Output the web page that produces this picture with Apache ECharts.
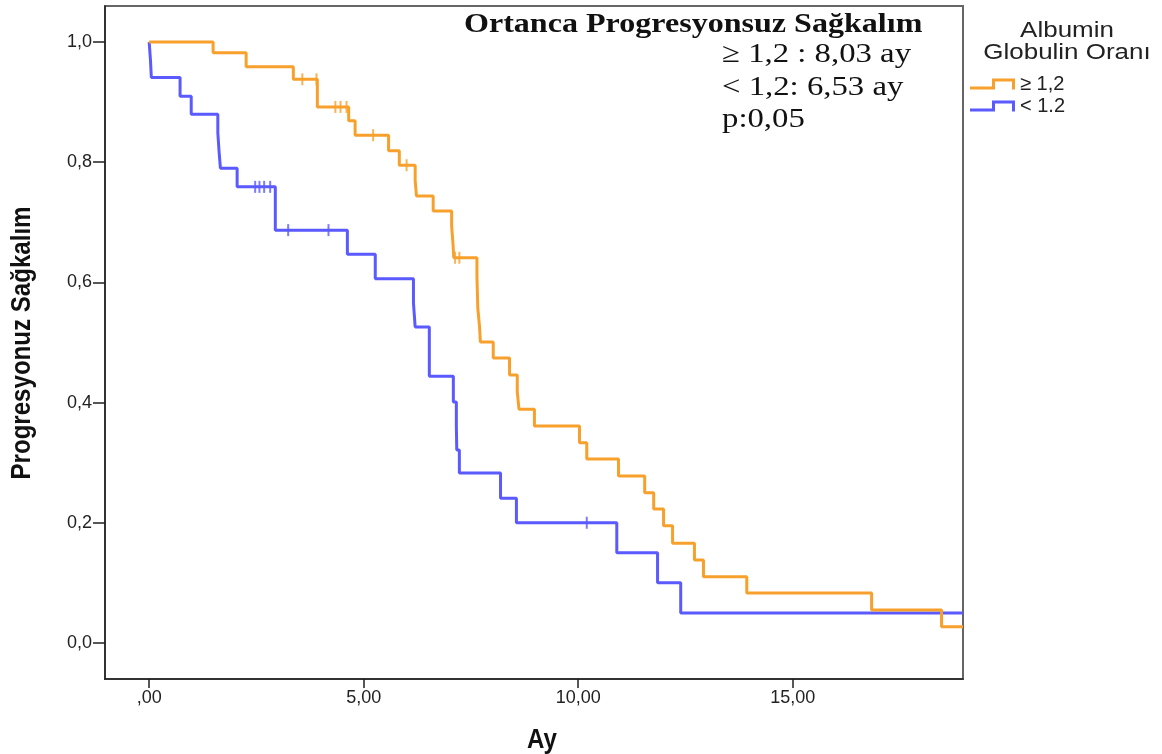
<!DOCTYPE html>
<html>
<head>
<meta charset="utf-8">
<script src="https://cdn.jsdelivr.net/npm/echarts@6/dist/echarts.min.js"></script>
<style>
html,body{margin:0;padding:0;background:#fff;}
#chart{width:1162px;height:754px;}
</style>
</head>
<body>
<div id="chart"></div>
<script>
// ---- data ----
const seriesNames = ['≥ 1,2', '< 1.2'];

// ≥ 1,2 group: event times (ay) and survival after each step
const highTimes = [0, 1.49, 2.26, 3.36, 3.92, 4.65, 4.80, 5.58, 5.83, 6.20, 6.23, 6.62, 7.05, 7.08, 7.10, 7.64, 7.66, 7.70, 7.72, 8.02, 8.40, 8.58, 8.62, 8.98, 10.03, 10.20, 10.94, 11.55, 11.76, 11.99, 12.20, 12.71, 12.92, 13.93, 16.84, 18.47, 18.97];
const highSurv  = [1.0, 0.982, 0.959, 0.938, 0.892, 0.869, 0.845, 0.819, 0.795, 0.770, 0.744, 0.719, 0.694, 0.666, 0.641, 0.610, 0.557, 0.527, 0.501, 0.474, 0.446, 0.418, 0.389, 0.361, 0.333, 0.306, 0.278, 0.250, 0.223, 0.195, 0.166, 0.138, 0.110, 0.083, 0.055, 0.027, 0.027];
const highCensorTimes = [3.57, 3.90, 4.34, 4.46, 4.60, 5.22, 6.00, 7.13, 7.23];
const highCensorSurv  = [0.938, 0.938, 0.892, 0.892, 0.892, 0.845, 0.795, 0.641, 0.641];

// < 1.2 group
const lowTimes = [0, 0.03, 0.05, 0.72, 0.98, 1.60, 1.63, 1.66, 2.05, 2.94, 4.62, 5.27, 6.16, 6.20, 6.53, 7.09, 7.16, 7.17, 7.23, 8.19, 8.56, 10.90, 11.85, 12.39, 18.97];
const lowSurv  = [1.0, 0.970, 0.941, 0.910, 0.880, 0.849, 0.817, 0.790, 0.759, 0.687, 0.647, 0.606, 0.566, 0.526, 0.444, 0.401, 0.361, 0.321, 0.283, 0.241, 0.200, 0.150, 0.100, 0.050, 0.050];
const lowCensorTimes = [2.47, 2.57, 2.68, 2.82, 3.24, 4.18, 10.20];
const lowCensorSurv  = [0.759, 0.759, 0.759, 0.759, 0.687, 0.687, 0.200];

const xTickValues = [0, 5, 10, 15];
const xTickLabels = [',00', '5,00', '10,00', '15,00'];
const yTickValues = [0, 0.2, 0.4, 0.6, 0.8, 1.0];
const yTickLabels = ['0,0', '0,2', '0,4', '0,6', '0,8', '1,0'];

const xAxisTitle = 'Ay';
const yAxisTitle = 'Progresyonuz Sağkalım';
const annotationTitle = 'Ortanca Progresyonsuz Sağkalım';
const annotationLines = ['≥ 1,2 : 8,03 ay', '< 1,2: 6,53 ay', 'p:0,05'];
const legendTitle = ['Albumin', 'Globulin Oranı'];

// ---- chart ----
const ORANGE = '#f8a02c';
const BLUE = '#5a5aff';
const zip = (a, b) => a.map((v, i) => [v, b[i]]);

const stepIcon = 'path://M0,8 L22,8 L22,0 L45,0 L45,11 L42,11 L42,3 L25,3 L25,11 L0,11 Z';

const chart = echarts.init(document.getElementById('chart'), null, {renderer: 'canvas'});
const serifFont = '"Liberation Serif","Times New Roman",serif';
const sansFont = '"Liberation Sans",Arial,sans-serif';

chart.setOption({
  animation: false,
  backgroundColor: '#fff',
  grid: {left: 105, right: 199, top: 6, bottom: 75, containLabel: false, outerBoundsMode: 'none',
    show: true, borderColor: '#666', borderWidth: 2, backgroundColor: 'transparent'},
  xAxis: {
    type: 'value', min: -1.03, max: 18.97,
    axisLine: {show: true, onZero: false, lineStyle: {color: '#222', width: 1.5}},
    axisTick: {show: true, length: 9, customValues: xTickValues, lineStyle: {color: '#222', width: 1.5}},
    axisLabel: {customValues: xTickValues, margin: 10, fontFamily: sansFont, fontSize: 18, color: '#222',
      formatter: v => xTickLabels[xTickValues.indexOf(v)] ?? ''},
    splitLine: {show: false}
  },
  yAxis: {
    type: 'value', min: -0.06, max: 1.06,
    axisLine: {show: true, onZero: false, lineStyle: {color: '#222', width: 1.5}},
    axisTick: {show: true, length: 12, customValues: yTickValues, lineStyle: {color: '#222', width: 1.5}},
    axisLabel: {customValues: yTickValues, margin: 13, fontFamily: sansFont, fontSize: 18, color: '#222',
      formatter: v => { const i = yTickValues.findIndex(t => Math.abs(t - v) < 1e-6); return i >= 0 ? yTickLabels[i] : ''; }},
    splitLine: {show: false}
  },
  legend: {
    orient: 'vertical', left: 965, top: 69, itemGap: 2,
    itemWidth: 45, itemHeight: 11,
    data: [{name: seriesNames[0], icon: stepIcon}, {name: seriesNames[1], icon: stepIcon}],
    textStyle: {fontFamily: sansFont, fontSize: 20, color: '#222', lineHeight: 19},
    selectedMode: false
  },
  graphic: [
    {type: 'text', x: 22, y: 343, rotation: Math.PI / 2, scaleX: 0.86, style: {text: yAxisTitle, textAlign: 'center', textVerticalAlign: 'middle', font: 'bold 28px ' + sansFont, fill: '#111'}},
    {type: 'text', x: 542, y: 740, scaleX: 0.86, style: {text: xAxisTitle, textAlign: 'center', textVerticalAlign: 'middle', font: 'bold 28px ' + sansFont, fill: '#111'}},
    {type: 'text', x: 464, y: 25, scaleX: 1.145, style: {text: annotationTitle, textAlign: 'left', textVerticalAlign: 'middle', font: 'bold 28px ' + serifFont, fill: '#111'}},
    {type: 'text', x: 722, y: 55, scaleX: 1.17, style: {text: annotationLines[0], textAlign: 'left', textVerticalAlign: 'middle', font: '28px ' + serifFont, fill: '#111'}},
    {type: 'text', x: 722, y: 88, scaleX: 1.17, style: {text: annotationLines[1], textAlign: 'left', textVerticalAlign: 'middle', font: '28px ' + serifFont, fill: '#111'}},
    {type: 'text', x: 722, y: 120, scaleX: 1.17, style: {text: annotationLines[2], textAlign: 'left', textVerticalAlign: 'middle', font: '28px ' + serifFont, fill: '#111'}},
    {type: 'text', x: 1067, y: 31, scaleX: 1.18, style: {text: legendTitle[0], textAlign: 'center', textVerticalAlign: 'middle', font: '22px ' + sansFont, fill: '#222'}},
    {type: 'text', x: 1067, y: 53, scaleX: 1.18, style: {text: legendTitle[1], textAlign: 'center', textVerticalAlign: 'middle', font: '22px ' + sansFont, fill: '#222'}}
  ],
  series: [
    {name: seriesNames[0], type: 'line', step: 'end', showSymbol: false, silent: true,
      data: zip(highTimes, highSurv), lineStyle: {color: ORANGE, width: 3}, itemStyle: {color: ORANGE}, z: 3},
    {name: seriesNames[1], type: 'line', step: 'end', showSymbol: false, silent: true,
      data: zip(lowTimes, lowSurv), lineStyle: {color: BLUE, width: 3}, itemStyle: {color: BLUE}, z: 2},
    {name: 'censor-high', type: 'scatter', symbol: 'rect', symbolSize: [2, 12], silent: true,
      data: zip(highCensorTimes, highCensorSurv), itemStyle: {color: ORANGE}, z: 4},
    {name: 'censor-low', type: 'scatter', symbol: 'rect', symbolSize: [2, 12], silent: true,
      data: zip(lowCensorTimes, lowCensorSurv), itemStyle: {color: BLUE}, z: 4}
  ]
});
</script>
</body>
</html>
